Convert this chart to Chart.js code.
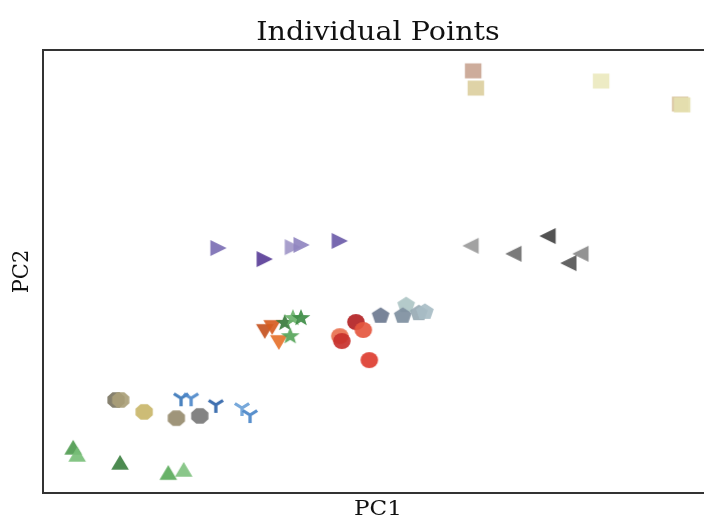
<!DOCTYPE html>
<html>
<head>
<meta charset="utf-8">
<script src="https://cdn.jsdelivr.net/npm/chart.js@4/dist/chart.umd.min.js"></script>
<style>
html,body{margin:0;padding:0;background:#fff;overflow:hidden;}
#wrap{width:730px;height:519px;position:relative;}
</style>
</head>
<body>
<div id="wrap"><canvas id="c"></canvas></div>
<script>
// ---- data (PC1, PC2 scores, arbitrary units) ----
const titleText = 'Individual Points';
const xLabel = 'PC1';
const yLabel = 'PC2';

const squaresX = [6.42, 6.46, 8.33, 9.51, 9.54];
const squaresY = [9.53, 9.14, 9.30, 8.78, 8.76];
const squaresColors = ['#c9a592', '#dccf9f', '#ebe9bf', '#d8c29c', '#e5e1b0'];

const rightTriX = [2.61, 3.30, 3.72, 3.85, 4.42];
const rightTriY = [5.53, 5.28, 5.55, 5.60, 5.69];
const rightTriColors = ['#7c6fb4', '#5a3e98', '#a197c8', '#9085c0', '#6c5ca9'];

const leftTriX = [6.39, 7.03, 7.54, 8.03, 7.85];
const leftTriY = [5.58, 5.40, 5.80, 5.40, 5.19];
const leftTriColors = ['#9a9a9a', '#6f6f6f', '#434343', '#8a8a8a', '#565656'];

const downTriX = [3.31, 3.42, 3.52];
const downTriY = [3.66, 3.75, 3.41];
const downTriColors = ['#c65220', '#d65c1f', '#e6722c'];

const starsX = [3.61, 3.73, 3.85, 3.69];
const starsY = [3.84, 3.95, 3.95, 3.54];
const starsColors = ['#3a7b3c', '#6cb36c', '#3f8d47', '#57a55a'];

const circlesX = [4.43, 4.46, 4.67, 4.78, 4.87];
const circlesY = [3.54, 3.43, 3.86, 3.68, 3.00];
const circlesColors = ['#e8714f', '#c8312c', '#b32224', '#e5573f', '#dd3d30'];

const pentX = [5.04, 5.42, 5.37, 5.61, 5.70];
const pentY = [4.00, 4.24, 4.00, 4.06, 4.09];
const pentColors = ['#6c7a90', '#aec5c6', '#7e8fa0', '#98aab4', '#a8bdc5'];

const octX = [1.09, 1.16, 1.51, 1.99, 2.34];
const octY = [2.10, 2.10, 1.83, 1.69, 1.74];
const octColors = ['#7b7562', '#aaa078', '#c9b66a', '#978c6f', '#787878'];

const triDownX = [2.06, 2.21, 2.58, 2.97, 3.09];
const triDownY = [2.14, 2.14, 1.99, 1.92, 1.76];
const triDownColors = ['#3b77ba', '#4d88ca', '#2f64a9', '#6ca2d8', '#4a86c8'];

const upTriX = [0.45, 0.51, 1.15, 1.87, 2.10];
const upTriY = [1.02, 0.86, 0.68, 0.45, 0.52];
const upTriColors = ['#4f9b50', '#78bf78', '#3d8041', '#5bab5b', '#80c280'];

// ---- marker drawing ----
const STRETCH = 1.1; // horizontal stretch seen in the reference
function makeMarker(shape, color) {
  const S = 26;
  const cv = document.createElement('canvas');
  cv.width = S; cv.height = S;
  const g = cv.getContext('2d');
  g.translate(S / 2, S / 2);
  g.scale(STRETCH, 1);
  g.globalAlpha = 0.92;
  g.fillStyle = color;
  g.strokeStyle = color;
  g.beginPath();
  const poly = (n, r, rot) => {
    for (let i = 0; i < n; i++) {
      const a = rot + i * 2 * Math.PI / n;
      const px = r * Math.cos(a), py = r * Math.sin(a);
      if (i === 0) g.moveTo(px, py); else g.lineTo(px, py);
    }
    g.closePath(); g.fill();
  };
  if (shape === 'square') {
    g.fillRect(-7.5, -7.5, 15, 15);
  } else if (shape === 'circle') {
    g.arc(0, 0, 8, 0, Math.PI * 2); g.fill();
  } else if (shape === 'up' || shape === 'down') {
    g.rotate(shape === 'up' ? 0 : Math.PI);
    g.moveTo(0, -8); g.lineTo(-8, 6.8); g.lineTo(8, 6.8); g.closePath(); g.fill();
  } else if (shape === 'left' || shape === 'right') {
    const d = shape === 'right' ? 1 : -1;
    g.moveTo(8 * d, 0); g.lineTo(-6.8 * d, -8); g.lineTo(-6.8 * d, 8); g.closePath(); g.fill();
  } else if (shape === 'pentagon') {
    poly(5, 8.5, -Math.PI / 2);
  } else if (shape === 'octagon') {
    poly(8, 8.5, Math.PI / 8);
  } else if (shape === 'star') {
    for (let i = 0; i < 10; i++) {
      const r = i % 2 === 0 ? 9 : 3.8;
      const a = -Math.PI / 2 + i * Math.PI / 5;
      const px = r * Math.cos(a), py = r * Math.sin(a);
      if (i === 0) g.moveTo(px, py); else g.lineTo(px, py);
    }
    g.closePath(); g.fill();
  } else if (shape === 'tri') {
    g.lineWidth = 3; g.lineCap = 'butt';
    g.moveTo(0, 0); g.lineTo(0, 8);
    g.moveTo(0, 0); g.lineTo(-6.5, -4.5);
    g.moveTo(0, 0); g.lineTo(6.5, -4.5);
    g.stroke();
  }
  return cv;
}

function group(xs, ys, colors, shape) {
  return {
    data: xs.map((x, i) => ({x: x, y: ys[i]})),
    pointStyle: colors.map(c => makeMarker(shape, c)),
    pointRadius: 9,
    pointHoverRadius: 9,
    showLine: false,
    backgroundColor: colors,
    borderColor: colors
  };
}

function stretchedText(ctx, text, x, y, size, rotate) {
  ctx.save();
  ctx.translate(x, y);
  ctx.scale(STRETCH, 1);
  if (rotate) ctx.rotate(-Math.PI / 2);
  ctx.font = 'normal ' + size + 'px "DejaVu Serif"';
  ctx.fillStyle = '#111';
  ctx.textAlign = 'center';
  ctx.textBaseline = 'alphabetic';
  ctx.fillText(text, 0, 0);
  ctx.restore();
}

const frame = {
  id: 'frame',
  afterDraw(chart) {
    const a = chart.chartArea, ctx = chart.ctx;
    ctx.save();
    ctx.strokeStyle = '#333';
    ctx.lineWidth = 2;
    ctx.strokeRect(a.left, a.top, a.right - a.left, a.bottom - a.top);
    ctx.restore();
    const cx = (a.left + a.right) / 2, cy = (a.top + a.bottom) / 2;
    stretchedText(ctx, titleText, cx, a.top - 10, 26, false);
    stretchedText(ctx, xLabel, cx, a.bottom + 22, 21, false);
    stretchedText(ctx, yLabel, a.left - 15, cy, 21, true);
  }
};

new Chart(document.getElementById('c'), {
  type: 'scatter',
  data: {
    datasets: [
      group(squaresX, squaresY, squaresColors, 'square'),
      group(rightTriX, rightTriY, rightTriColors, 'right'),
      group(leftTriX, leftTriY, leftTriColors, 'left'),
      group(starsX, starsY, starsColors, 'star'),
      group(downTriX, downTriY, downTriColors, 'down'),
      group(circlesX, circlesY, circlesColors, 'circle'),
      group(pentX, pentY, pentColors, 'pentagon'),
      group(triDownX, triDownY, triDownColors, 'tri'),
      group(octX, octY, octColors, 'octagon'),
      group(upTriX, upTriY, upTriColors, 'up')
    ]
  },
  options: {
    responsive: true,
    maintainAspectRatio: false,
    animation: false,
    layout: {padding: {left: 43, right: 17, top: 50, bottom: 26}},
    plugins: {
      legend: {display: false},
      tooltip: {enabled: false},
      title: {display: false}
    },
    scales: {
      x: {type: 'linear', min: 0, max: 10, display: false},
      y: {type: 'linear', min: 0, max: 10, display: false}
    }
  },
  plugins: [frame]
});
</script>
</body>
</html>
